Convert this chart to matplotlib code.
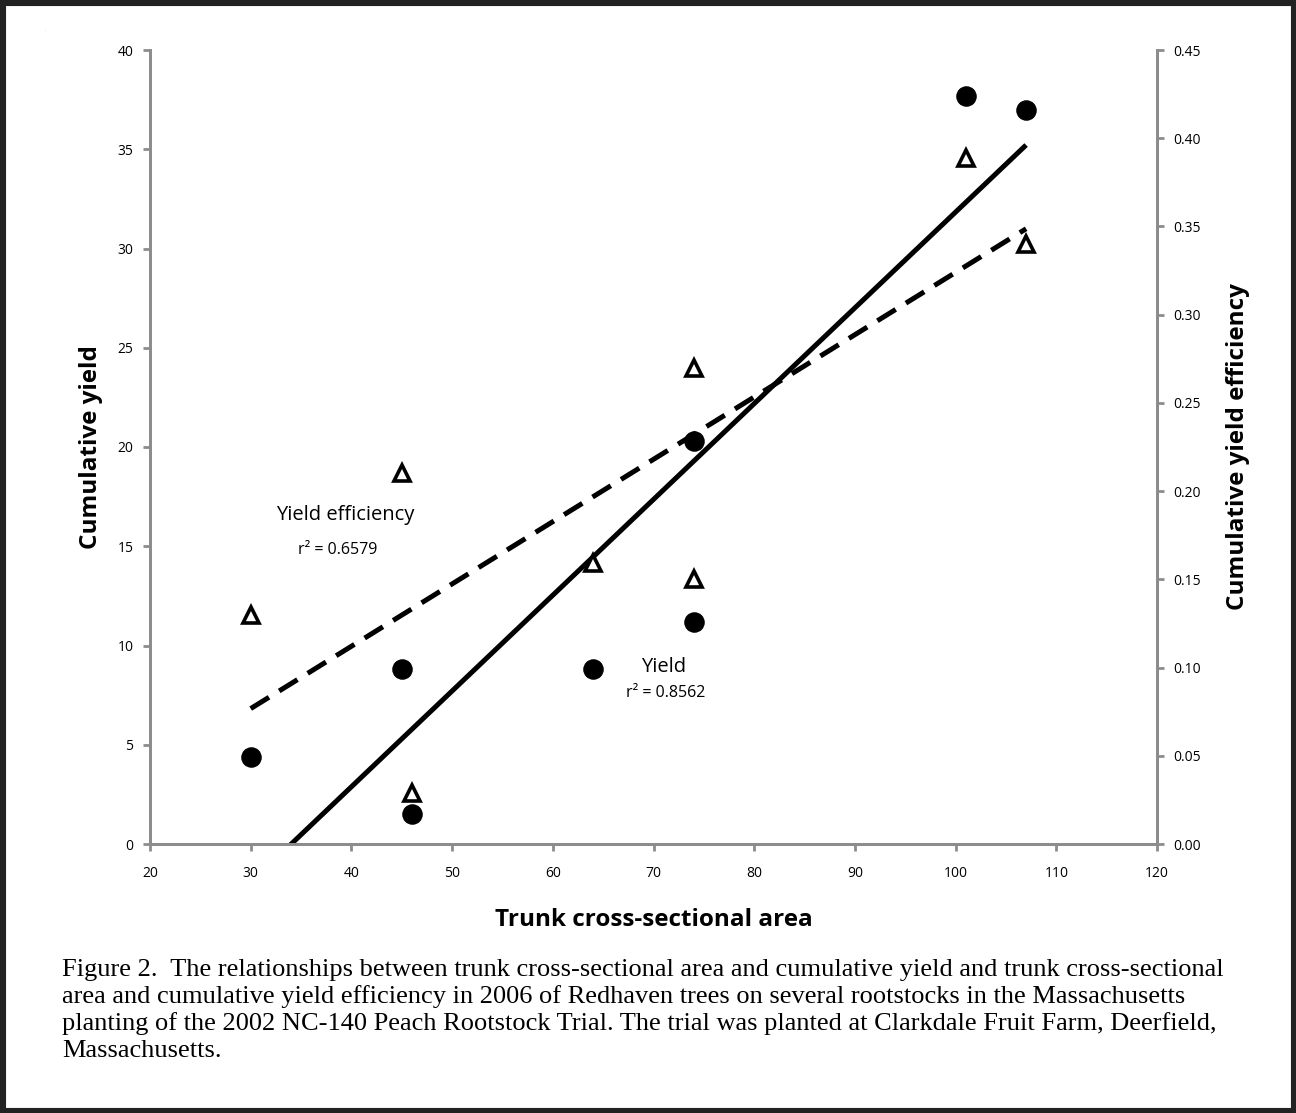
import numpy as np
import matplotlib.pyplot as plt
from matplotlib.patches import Rectangle

# trunk cross-sectional area
tcsa = [30, 45, 46, 64, 74, 74, 101, 107]
# cumulative yield (left axis)
cum_yield = [4.4, 8.8, 1.5, 8.8, 20.3, 11.2, 37.7, 37.0]
# cumulative yield efficiency (right axis)
tcsa_eff = [30, 45, 46, 64, 74, 74, 101, 107]
yield_eff = [0.130, 0.210, 0.029, 0.159, 0.270, 0.150, 0.389, 0.340]

caption_lines = [
    "Figure 2.  The relationships between trunk cross-sectional area and cumulative yield and trunk cross-sectional",
    "area and cumulative yield efficiency in 2006 of Redhaven trees on several rootstocks in the Massachusetts",
    "planting of the 2002 NC-140 Peach Rootstock Trial. The trial was planted at Clarkdale Fruit Farm, Deerfield,",
    "Massachusetts.",
]

W, H = 1296, 1113
fig = plt.figure(figsize=(W / 100, H / 100), dpi=100)
plt.rcParams['font.family'] = ['Open Sans', 'DejaVu Sans']

ax = fig.add_axes([150 / W, 1 - 844 / H, (1157 - 150) / W, (844 - 50) / H])
ax2 = ax.twinx()

gray = '#8c8c8c'

# trend lines from least squares fits
xs = np.array([30, 107])
p1 = np.polyfit(tcsa, cum_yield, 1)
p2 = np.polyfit(tcsa_eff, yield_eff, 1)
ax.plot(xs, np.polyval(p1, xs), color='black', lw=3.6, solid_capstyle='butt')
ln, = ax2.plot(xs, np.polyval(p2, xs), color='black', lw=3.6, dash_capstyle='butt')
ln.set_dashes((4.3, 2.4))

ax.scatter(tcsa, cum_yield, s=190, color='black', zorder=3)
ax2.plot(tcsa_eff, yield_eff, linestyle='none', marker='^', markersize=12,
         markerfacecolor='white', markeredgecolor='black', markeredgewidth=2.6, zorder=3)

ax.set_xlim(20, 120)
ax.set_ylim(0, 40)
ax2.set_ylim(0, 0.45)
ax.set_xticks(np.arange(20, 121, 10))
ax.set_yticks(np.arange(0, 41, 5))
ax2.set_yticks(np.arange(0, 0.451, 0.05))
ax2.set_yticklabels(['%.2f' % v for v in np.arange(0, 0.451, 0.05)])

for a in (ax, ax2):
    for s in a.spines.values():
        s.set_color(gray)
        s.set_linewidth(2)
    a.spines['top'].set_visible(False)
    a.tick_params(colors=gray, width=2, length=5, labelsize=10, labelcolor='black', pad=7)
ax.tick_params(axis='x', pad=11)

ax.set_xlabel('Trunk cross-sectional area', fontsize=17.5, fontweight='bold', labelpad=19)
ax.set_ylabel('Cumulative yield', fontsize=17.5, fontweight='bold', labelpad=10)
ax2.set_ylabel('Cumulative yield efficiency', fontsize=17.5, fontweight='bold', labelpad=18)

# annotation positions given in pixel x, converted to data x below
ax.text(345, 16.55, 'Yield efficiency', ha='center', va='center', fontsize=14.5)
ax.text(338, 14.8, 'r² = 0.6579', ha='center', va='center', fontsize=11.5)
ax.text(664, 8.9, 'Yield', ha='center', va='center', fontsize=14.5)
ax.text(666, 7.6, 'r² = 0.8562', ha='center', va='center', fontsize=11.5)
for t in ax.texts:
    px, py = t.get_position()
    t.set_position((20 + (px - 150) / 10.07, py))

fig.text(45 / W, 1 - 31 / H, '.', fontsize=3, color='#666666')

for i, line in enumerate(caption_lines):
    fig.text(62 / W, 1 - (970 + 27 * i) / H, line, fontsize=19,
             family='Liberation Serif', va='center', ha='left')

fig.patches.append(Rectangle((0, 0), 1, 1, transform=fig.transFigure, fill=False,
                             edgecolor='#222222', linewidth=8))

fig.savefig('out.png', dpi=100)
